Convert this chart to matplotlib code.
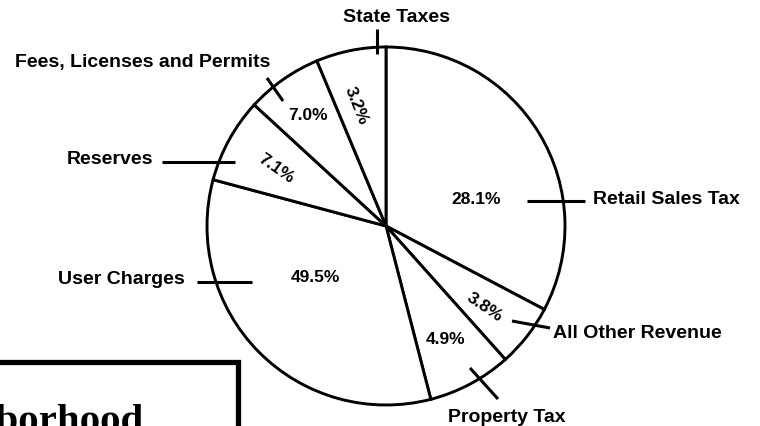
import matplotlib
matplotlib.use('Agg')
import matplotlib.pyplot as plt

# revenue sources, clockwise from 12 o'clock
categories = ['Retail Sales Tax', 'All Other Revenue', 'Property Tax',
              'User Charges', 'Reserves', 'Fees, Licenses and Permits',
              'State Taxes']
printed_pct = [28.1, 3.8, 4.9, 49.5, 7.1, 7.0, 3.2]
# slice sizes as they are drawn in the scan (degrees), they do not follow the printed numbers
drawn_deg = [117.8, 20.4, 27.3, 119.5, 27.6, 24.7, 22.7]

W, H = 760, 427


def P(x, y):
    # pixel coords (origin top left) -> data coords
    return x, H - y


fig = plt.figure(figsize=(W / 100, H / 100), dpi=100)
ax = fig.add_axes([0, 0, 1, 1])

ax.pie(drawn_deg, startangle=90, counterclock=False,
       center=P(386, 227), radius=179,
       wedgeprops=dict(facecolor='white', edgecolor='black', linewidth=2.1))
ax.set_xlim(0, W)
ax.set_ylim(0, H)
ax.set_aspect('equal')
ax.axis('off')

lab_font = dict(family='Liberation Sans', fontweight='bold', fontsize=14, color='black')
pct_font = dict(family='Liberation Sans', fontweight='bold', fontsize=12.5, color='black')

# outside labels: (x, y, ha)
name_pos = [(593, 200, 'left'), (553, 334, 'left'), (448, 418, 'left'),
            (185, 279, 'right'), (153, 159, 'right'), (15, 63, 'left'),
            (343, 18, 'left')]
for name, (x, y, ha) in zip(categories, name_pos):
    ax.text(*P(x, y), name, ha=ha, va='center', **lab_font)

# leader ticks crossing the rim
leaders = [((527, 202), (585, 202)), ((512, 322), (550, 329)),
           ((470, 369), (498, 400)), ((197, 283), (252, 283)),
           ((162, 163), (235, 163)), ((267, 79), (283, 102)),
           ((377, 30), (377, 55))]
for (x0, y0), (x1, y1) in leaders:
    ax.plot([x0, x1], [H - y0, H - y1], color='black', lw=2.2,
            solid_capstyle='butt')

# percentages inside the slices: (x, y, rotation)
pct_pos = [(476, 200, 0), (485, 307, -34), (446, 340, 0), (315, 278, 0),
           (276, 169, -35), (308, 115, 0), (356, 106, -68)]
for v, (x, y, rot) in zip(printed_pct, pct_pos):
    ax.text(*P(x, y), f'{v:.1f}%', ha='center', va='center', rotation=rot,
            rotation_mode='anchor', **pct_font)

# framed box at the bottom left (page continues below, heading is cut in the scan)
ax.plot([-10, 238, 238], [H - 363, H - 363, -10], color='black', lw=3.8,
        solid_joinstyle='miter')
ax.text(*P(143, 432), 'Neighborhood', ha='right', va='baseline',
        family='Liberation Serif', fontweight='bold', fontsize=29.5)

fig.savefig('out.png', dpi=100)
